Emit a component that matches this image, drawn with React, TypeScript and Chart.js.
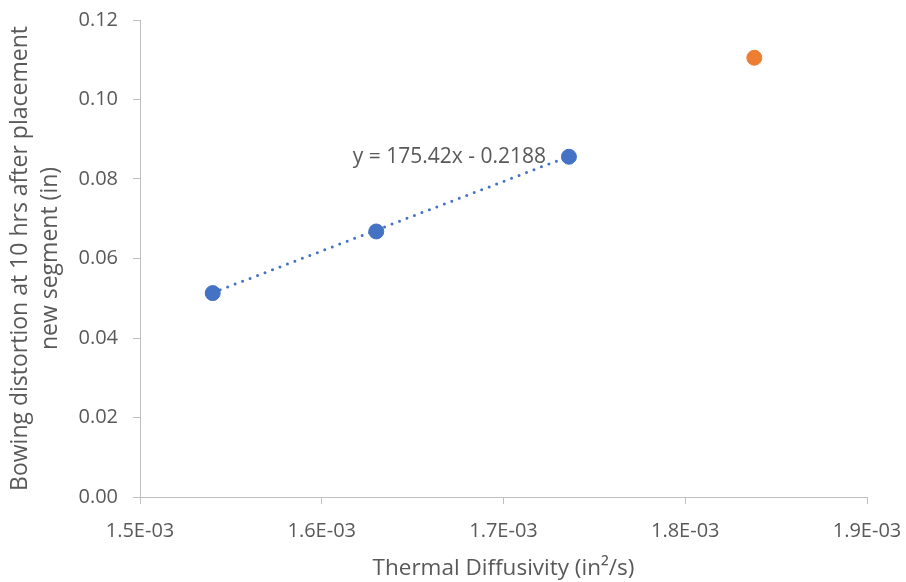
import React, { useEffect, useRef } from "react";
import { Chart, registerables } from "chart.js";

Chart.register(...registerables);

// Measured series (Thermal diffusivity in in²/s, bowing in inches)
const diffusivity = [1.540e-3, 1.630e-3, 1.736e-3];
const bowing = [0.0513, 0.0668, 0.0856];
const outlierDiffusivity = [1.838e-3];
const outlierBowing = [0.1105];

// Linear trendline endpoints (as drawn)
const trendX = [1.540e-3, 1.736e-3];
const trendY = [0.0514, 0.0857];
const trendLabel = "y = 175.42x - 0.2188";

// Axes
const xMin = 1.5e-3;
const xMax = 1.9e-3;
const xStep = 1e-4;
const yMin = 0;
const yMax = 0.12;
const yStep = 0.02;
const xTitle = "Thermal Diffusivity (in\u00B2/s)";
const yTitle = ["Bowing distortion at 10 hrs after placement", "new segment (in)"];

const FONT = "'Open Sans', 'Liberation Sans', sans-serif";
const TEXT = "#595959";
const AXIS = "#BFBFBF";
const BLUE = "#4472C4";
const ORANGE = "#ED7D31";

function fmtExp(v: number): string {
  const s = v.toExponential(1);
  const [m, e] = s.split("e");
  const n = parseInt(e, 10);
  const sign = n < 0 ? "-" : "+";
  const abs = Math.abs(n).toString().padStart(2, "0");
  return `${m}E${sign}${abs}`;
}

const trendLabelPlugin = {
  id: "trendLabel",
  afterDatasetsDraw(chart: any) {
    const { ctx, scales } = chart;
    const px = scales.x.getPixelForValue(trendX[1]);
    const py = scales.y.getPixelForValue(trendY[1]);
    ctx.save();
    ctx.font = `21px ${FONT}`;
    ctx.fillStyle = TEXT;
    ctx.textAlign = "right";
    ctx.textBaseline = "middle";
    ctx.fillText(trendLabel, px - 23, py + 1);
    ctx.restore();
  },
};

export default function App() {
  const ref = useRef<HTMLCanvasElement | null>(null);

  useEffect(() => {
    if (!ref.current) return;
    const chart = new Chart(ref.current, {
      type: "scatter",
      data: {
        datasets: [
          {
            label: "Measured",
            data: diffusivity.map((x, i) => ({ x, y: bowing[i] })),
            backgroundColor: BLUE,
            borderColor: BLUE,
            pointRadius: 7.5,
            pointBorderWidth: 1,
            showLine: false,
          },
          {
            label: "Outlier",
            data: outlierDiffusivity.map((x, i) => ({ x, y: outlierBowing[i] })),
            backgroundColor: ORANGE,
            borderColor: ORANGE,
            pointRadius: 7.5,
            pointBorderWidth: 1,
            showLine: false,
          },
          {
            label: "Linear trend",
            data: trendX.map((x, i) => ({ x, y: trendY[i] })),
            borderColor: BLUE,
            backgroundColor: BLUE,
            borderWidth: 3,
            borderDash: [0, 8],
            borderCapStyle: "round",
            pointRadius: 0,
            showLine: true,
          } as any,
        ],
      },
      options: {
        animation: false,
        responsive: false,
        maintainAspectRatio: false,
        layout: { padding: { top: 20, right: 39, bottom: 0, left: 0 } },
        plugins: {
          legend: { display: false },
          tooltip: { enabled: false },
        },
        scales: {
          x: {
            type: "linear",
            min: xMin,
            max: xMax,
            border: { display: true, color: AXIS, width: 1 },
            grid: { display: true, drawOnChartArea: false, drawTicks: true, tickLength: 7, color: AXIS },
            ticks: {
              stepSize: xStep,
              color: TEXT,
              font: { family: FONT, size: 20 },
              padding: 15,
              maxRotation: 0,
              callback: (v: any) => fmtExp(Number(v)),
            },
            title: {
              display: true,
              text: xTitle,
              color: TEXT,
              font: { family: FONT, size: 22.5 },
              padding: { top: 0, bottom: 0 },
            },
            afterFit: (s: any) => {
              s.height = 85;
              s.paddingLeft = 0;
              s.paddingRight = 0;
            },
          },
          y: {
            type: "linear",
            min: yMin,
            max: yMax,
            border: { display: true, color: AXIS, width: 1 },
            grid: { display: true, drawOnChartArea: false, drawTicks: true, tickLength: 7, color: AXIS },
            ticks: {
              stepSize: yStep,
              color: TEXT,
              font: { family: FONT, size: 20 },
              padding: 15,
              callback: (v: any) => Number(v).toFixed(2),
            },
            title: {
              display: true,
              text: yTitle,
              color: TEXT,
              font: { family: FONT, size: 23, lineHeight: 1.3 },
              padding: { top: 6, bottom: 0 },
            },
            afterFit: (s: any) => {
              s.width = 140;
              s.paddingTop = 0;
              s.paddingBottom = 0;
            },
          },
        },
      },
      plugins: [trendLabelPlugin],
    });
    return () => chart.destroy();
  }, []);

  return (
    <div style={{ position: "fixed", left: 0, top: 0, width: 906, height: 582, background: "#fff" }}>
      <canvas ref={ref} width={906} height={582} style={{ width: 906, height: 582, display: "block" }} />
    </div>
  );
}
